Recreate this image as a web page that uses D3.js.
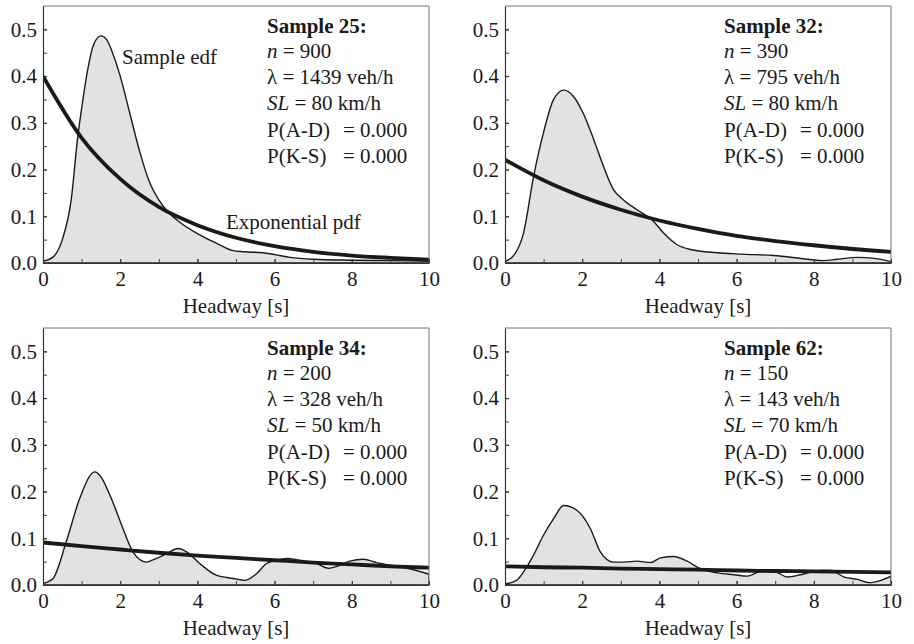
<!DOCTYPE html>
<html>
<head>
<meta charset="utf-8">
<script src="https://cdn.jsdelivr.net/npm/d3@7"></script>
<style>
  body { margin: 0; background: #fff; }
  svg { display: block; font-family: "Liberation Serif", "Times New Roman", serif; }
</style>
</head>
<body>
<div id="chart"></div>
<script>
// headway distributions, four samples

const sampleIds = ["25", "32", "34", "62"];
const sampleN = [900, 390, 200, 150];
const flowVeh = [1439, 795, 328, 143];
const speedLimit = [80, 80, 50, 70];
const pAD = ["0.000", "0.000", "0.000", "0.000"];
const pKS = ["0.000", "0.000", "0.000", "0.000"];

const xTicks = [0, 2, 4, 6, 8, 10];
const yTicks = [0, 0.1, 0.2, 0.3, 0.4, 0.5];

// sample edf, [headway s, density]
const edf25 = [[0, 0.004], [0.25, 0.012], [0.5, 0.05], [0.73, 0.135], [0.9, 0.27], [1.0, 0.33],
  [1.15, 0.41], [1.3, 0.465], [1.5, 0.486], [1.65, 0.478], [1.8, 0.45], [2.0, 0.40], [2.25, 0.32],
  [2.5, 0.24], [2.75, 0.175], [3.0, 0.135], [3.25, 0.108], [3.5, 0.09], [4.0, 0.063], [4.5, 0.042],
  [4.9, 0.027], [5.2, 0.024], [5.7, 0.022], [6.0, 0.018], [6.4, 0.012], [7.0, 0.008], [8.0, 0.006],
  [9.0, 0.005], [10, 0.004]];
const edf32 = [[0, 0.003], [0.26, 0.02], [0.48, 0.064], [0.74, 0.185], [1.0, 0.28], [1.26, 0.35],
  [1.52, 0.37], [1.77, 0.357], [2.03, 0.32], [2.3, 0.264], [2.55, 0.207], [2.81, 0.157], [3.07, 0.135],
  [3.42, 0.114], [3.85, 0.089], [4.11, 0.064], [4.46, 0.039], [4.8, 0.029], [5.5, 0.022], [6.1, 0.019],
  [6.97, 0.016], [7.84, 0.008], [8.27, 0.005], [8.6, 0.008], [9.13, 0.012], [9.57, 0.01], [10, 0.003]];
const edf34 = [[0, 0.003], [0.26, 0.014], [0.6, 0.092], [0.95, 0.185], [1.34, 0.242], [1.47, 0.235],
  [1.77, 0.185], [2.07, 0.121], [2.33, 0.071], [2.68, 0.049], [2.94, 0.057], [3.2, 0.067], [3.5, 0.078],
  [3.72, 0.071], [4.06, 0.046], [4.49, 0.021], [4.93, 0.014], [5.23, 0.01], [5.53, 0.024], [5.79, 0.046],
  [6.05, 0.053], [6.31, 0.057], [6.65, 0.053], [7.09, 0.046], [7.39, 0.036], [7.69, 0.042], [7.95, 0.051],
  [8.3, 0.055], [8.64, 0.048], [9.25, 0.039], [9.68, 0.031], [10, 0.023]];
const edf62 = [[0, 0.002], [0.3, 0.01], [0.48, 0.028], [0.74, 0.064], [1.0, 0.107], [1.26, 0.142],
  [1.52, 0.17], [1.86, 0.16], [2.21, 0.121], [2.47, 0.071], [2.81, 0.049], [3.07, 0.049], [3.42, 0.051],
  [3.77, 0.048], [4.03, 0.058], [4.37, 0.061], [4.72, 0.051], [5.06, 0.035], [5.5, 0.026], [5.93, 0.022],
  [6.28, 0.019], [6.62, 0.029], [6.97, 0.029], [7.32, 0.017], [7.66, 0.022], [8.18, 0.031], [8.44, 0.031],
  [8.79, 0.017], [9.13, 0.012], [9.44, 0.005], [9.74, 0.01], [10, 0.019]];

// exponential pdf read at whole seconds
const expX = [0, 1, 2, 3, 4, 5, 6, 7, 8, 9, 10];
const exp25 = [0.40, 0.268, 0.180, 0.120, 0.081, 0.054, 0.036, 0.024, 0.016, 0.011, 0.007];
const exp32 = [0.221, 0.177, 0.142, 0.114, 0.091, 0.073, 0.058, 0.047, 0.038, 0.030, 0.024];
const exp34 = [0.091, 0.083, 0.076, 0.069, 0.063, 0.058, 0.053, 0.048, 0.044, 0.040, 0.037];
const exp62 = [0.040, 0.038, 0.037, 0.035, 0.034, 0.033, 0.031, 0.030, 0.029, 0.028, 0.027];

const edfs = [edf25, edf32, edf34, edf62];
const exps = [exp25, exp32, exp34, exp62];

const W = 914, H = 644;
const svg = d3.select("#chart").append("svg").attr("width", W).attr("height", H);

const panelPos = [[0, 0], [457, 0], [0, 322], [457, 322]];
const plotLeft = [43, 48, 43, 48];
const plotW = 386, plotTop = 6, plotBottom = 263;
const ink = "#1a1a1a";

panelPos.forEach(([px, py], i) => {
  const g = svg.append("g").attr("transform", `translate(${px + plotLeft[i]},${py})`);
  const x = d3.scaleLinear().domain([0, 10]).range([0, plotW]);
  const y = d3.scaleLinear().domain([0, 0.55]).range([plotBottom, plotTop]);

  g.append("clipPath").attr("id", "clip" + i)
    .append("rect").attr("x", 0).attr("y", plotTop).attr("width", plotW).attr("height", plotBottom - plotTop);

  const plot = g.append("g").attr("clip-path", `url(#clip${i})`);

  plot.append("path")
    .datum(edfs[i])
    .attr("fill", "#e1e2e4")
    .attr("stroke", ink)
    .attr("stroke-width", 1.4)
    .attr("d", d3.area().x(d => x(d[0])).y0(y(0)).y1(d => y(d[1])).curve(d3.curveMonotoneX));

  // redraw bottom edge over fill stroke
  plot.append("path")
    .datum(expX.map((v, k) => [v, exps[i][k]]))
    .attr("fill", "none")
    .attr("stroke", ink)
    .attr("stroke-width", 3.8)
    .attr("d", d3.line().x(d => x(d[0])).y(d => y(d[1])).curve(d3.curveMonotoneX));

  // frame: light top/right
  g.append("path")
    .attr("d", `M0,${plotTop}H${plotW}V${plotBottom}`)
    .attr("fill", "none").attr("stroke", "#777").attr("stroke-width", 1);

  // minor ticks
  g.append("g").attr("transform", `translate(0,${plotBottom})`)
    .call(d3.axisBottom(x).tickValues(d3.range(0, 11, 1)).tickSizeInner(-4).tickSizeOuter(0).tickFormat(""))
    .call(a => a.select(".domain").remove())
    .selectAll("line").attr("stroke", "#444");
  g.append("g")
    .call(d3.axisLeft(y).tickValues(d3.range(0, 0.55, 0.05)).tickSizeInner(-4).tickSizeOuter(0).tickFormat(""))
    .call(a => a.select(".domain").remove())
    .selectAll("line").attr("stroke", "#444");

  // major axes with labels
  const xAxis = g.append("g").attr("transform", `translate(0,${plotBottom})`)
    .call(d3.axisBottom(x).tickValues(xTicks).tickSizeInner(-4).tickSizeOuter(0).tickPadding(8).tickFormat(d3.format("d")));
  const yAxis = g.append("g")
    .call(d3.axisLeft(y).tickValues(yTicks).tickSizeInner(-4).tickSizeOuter(0).tickPadding(6).tickFormat(d3.format(".1f")));

  [xAxis, yAxis].forEach(a => {
    a.attr("font-family", null).attr("font-size", null);
    a.select(".domain").attr("stroke", "#333").attr("stroke-width", 1.2);
    a.selectAll("line").attr("stroke", "#333");
    a.selectAll("text").attr("fill", ink).style("font-size", "21px");
  });

  g.append("text")
    .attr("x", plotW / 2).attr("y", 313)
    .attr("text-anchor", "middle")
    .attr("fill", ink).style("font-size", "21px")
    .text("Headway [s]");

  // sample annotation
  const ax = 267 - plotLeft[i];
  const info = g.append("g").attr("fill", ink).style("font-size", "21px");
  info.append("text").attr("x", ax).attr("y", 33)
    .attr("font-weight", "bold").text(`Sample ${sampleIds[i]}:`);
  const nT = info.append("text").attr("x", ax).attr("y", 58);
  nT.append("tspan").attr("font-style", "italic").text("n");
  nT.append("tspan").text(` = ${sampleN[i]}`);
  info.append("text").attr("x", ax).attr("y", 84).text(`λ = ${flowVeh[i]} veh/h`);
  const sT = info.append("text").attr("x", ax).attr("y", 110);
  sT.append("tspan").attr("font-style", "italic").text("SL");
  sT.append("tspan").text(` = ${speedLimit[i]} km/h`);
  info.append("text").attr("x", ax).attr("y", 137).text("P(A-D)");
  info.append("text").attr("x", ax + 76).attr("y", 137).text(`= ${pAD[i]}`);
  info.append("text").attr("x", ax).attr("y", 163).text("P(K-S)");
  info.append("text").attr("x", ax + 76).attr("y", 163).text(`= ${pKS[i]}`);

  if (i === 0) {
    g.append("text").attr("x", 122 - plotLeft[i]).attr("y", 64)
      .attr("fill", ink).style("font-size", "21px").text("Sample edf");
    g.append("text").attr("x", 226 - plotLeft[i]).attr("y", 229)
      .attr("fill", ink).style("font-size", "21px").text("Exponential pdf");
  }
});
</script>
</body>
</html>
